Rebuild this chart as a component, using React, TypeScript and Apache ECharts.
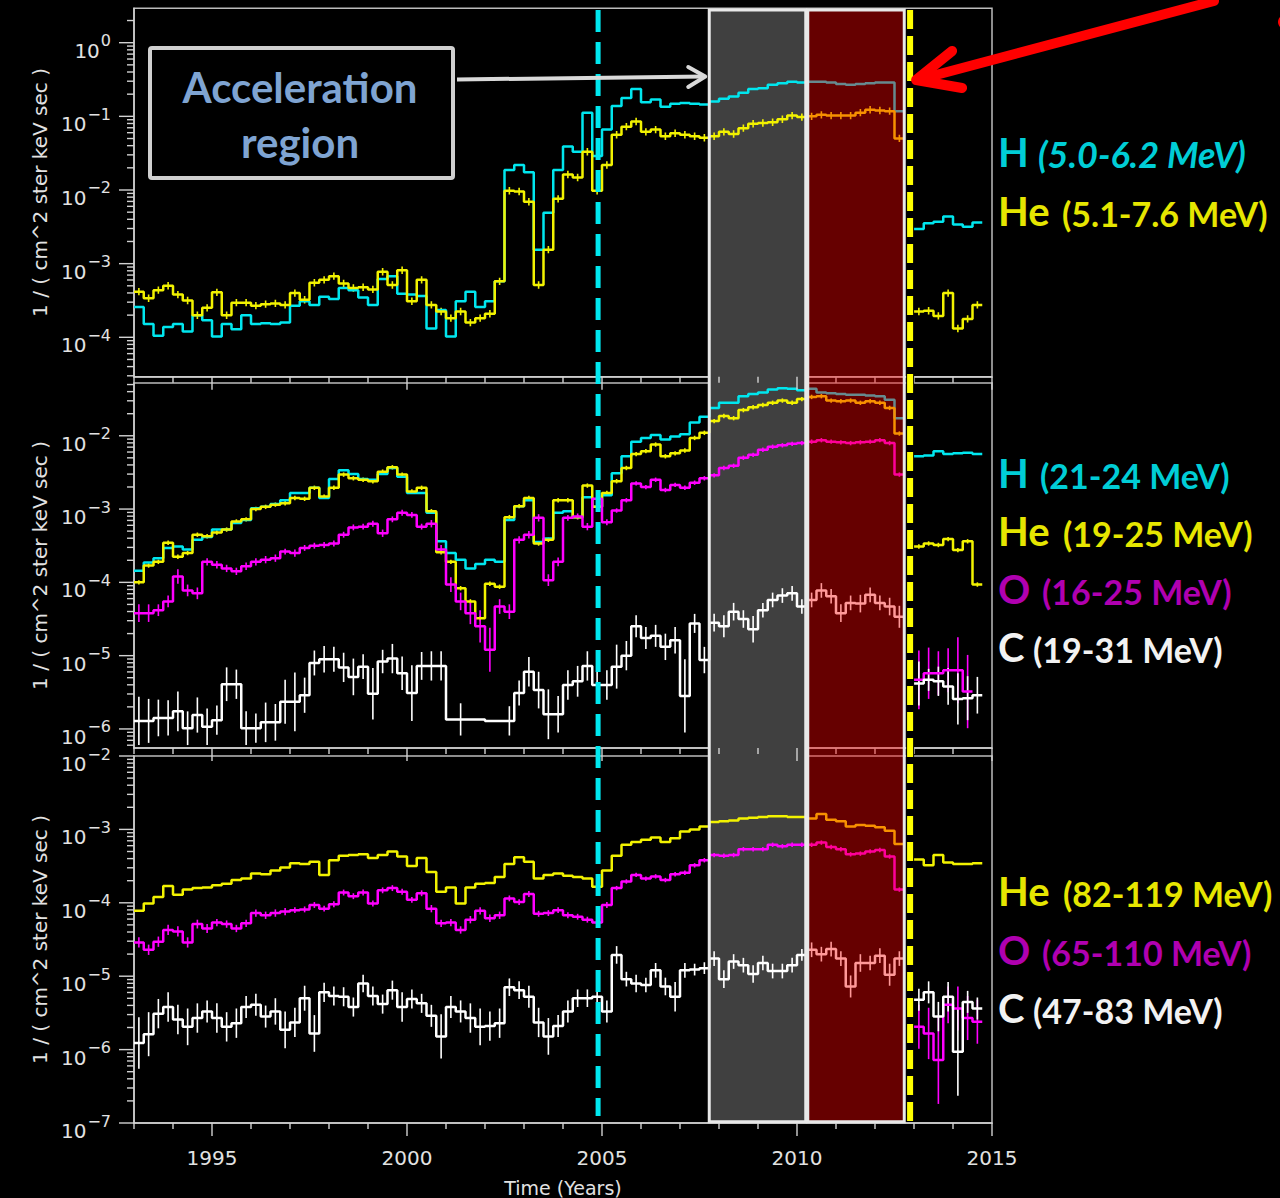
import React, { useEffect, useRef } from 'react';
import * as echarts from 'echarts';

// ---------- data (log10 of flux, 1 / (cm^2 ster keV sec)), quarter-year bins from 1993.0 ----------
const BIN_START = 1993;
const BIN_WIDTH = 0.25;
const YEAR_MIN = 1993;
const YEAR_MAX = 2015;
const YEAR_LABELS = [1995, 2000, 2005, 2010, 2015];

const topH = [
  -3.59, -3.82, -3.98, -3.86, -3.82, -3.92, -3.70, -3.77, -3.99, -3.82,
  -3.89, -3.70, -3.82, -3.81, -3.82, -3.80, -3.57, -3.51, -3.56, -3.45,
  -3.48, -3.33, -3.36, -3.46, -3.56, -3.21, -3.17, -3.41, -3.42, -3.44,
  -3.88, -3.63, -3.99, -3.51, -3.38, -3.59, -3.51, -3.24, -1.73, -1.66,
  -1.76, -2.81, -2.31, -1.73, -1.41, -1.48, -0.95, -1.54, -1.18, -0.86,
  -0.75, -0.63, -0.81, -0.77, -0.87, -0.83, -0.82, -0.83, -0.84, -0.80,
  -0.76, -0.73, -0.68, -0.63, -0.62, -0.57, -0.55, -0.53, -0.54, -0.53,
  -0.53, -0.54, -0.56, -0.57, -0.56, -0.55, -0.54, -0.54, -0.93, null,
  -2.53, -2.45, -2.43, -2.36, -2.47, -2.50, -2.44,
];
const topHe = [
  -3.38, -3.47, -3.36, -3.30, -3.42, -3.50, -3.70, -3.60, -3.39, -3.70,
  -3.53, -3.53, -3.57, -3.55, -3.54, -3.56, -3.40, -3.49, -3.26, -3.22,
  -3.17, -3.27, -3.33, -3.32, -3.35, -3.11, -3.29, -3.09, -3.51, -3.22,
  -3.56, -3.65, -3.74, -3.65, -3.80, -3.74, -3.68, -3.24, -2.01, -2.02,
  -2.16, -3.29, -2.81, -2.12, -1.79, -1.83, -1.48, -2.01, -1.66, -1.25,
  -1.14, -1.07, -1.21, -1.18, -1.27, -1.23, -1.25, -1.27, -1.29, -1.27,
  -1.21, -1.24, -1.16, -1.10, -1.09, -1.08, -1.04, -0.99, -1.01, -1.00,
  -0.98, -0.99, -0.99, -0.99, -0.95, -0.91, -0.92, -0.93, -1.30, null,
  -3.65, -3.64, -3.71, -3.40, -3.88, -3.75, -3.56,
];
const topHeErr = 0.05;

const midH = [
  -3.84, -3.73, -3.67, -3.53, -3.51, -3.55, -3.42, -3.38, -3.28, -3.28,
  -3.19, -3.15, -2.99, -2.97, -2.93, -2.88, -2.78, -2.78, -2.71, -2.85,
  -2.59, -2.47, -2.52, -2.59, -2.60, -2.52, -2.44, -2.56, -2.78, -2.78,
  -3.05, -3.44, -3.60, -3.69, -3.81, -3.75, -3.69, -3.72, -3.15, -2.96,
  -2.88, -3.45, -3.40, -3.05, -3.03, -3.11, -2.84, -2.97, -2.81, -2.51,
  -2.28, -2.08, -2.03, -1.99, -2.05, -2.01, -1.98, -1.82, -1.74, -1.62,
  -1.55, -1.55, -1.46, -1.43, -1.41, -1.37, -1.35, -1.36, -1.38, -1.36,
  -1.41, -1.42, -1.43, -1.44, -1.44, -1.45, -1.46, -1.51, -1.76, null,
  -2.28, -2.27, -2.21, -2.25, -2.24, -2.23, -2.25,
];
const midHe = [
  -4.00, -3.77, -3.72, -3.46, -3.65, -3.60, -3.35, -3.37, -3.32, -3.28,
  -3.17, -3.14, -3.00, -2.97, -2.94, -2.92, -2.85, -2.86, -2.71, -2.83,
  -2.71, -2.53, -2.58, -2.60, -2.62, -2.49, -2.43, -2.53, -2.76, -2.71,
  -3.03, -3.59, -3.72, -4.08, -4.26, -4.49, -4.02, -4.06, -3.11, -2.96,
  -2.85, -3.47, -3.42, -2.88, -2.88, -3.11, -2.68, -2.97, -2.78, -2.62,
  -2.44, -2.25, -2.21, -2.12, -2.28, -2.24, -2.20, -2.03, -1.96, -1.80,
  -1.73, -1.76, -1.65, -1.61, -1.58, -1.55, -1.52, -1.55, -1.50, -1.47,
  -1.46, -1.52, -1.53, -1.52, -1.55, -1.53, -1.55, -1.62, -1.97, null,
  -3.51, -3.47, -3.49, -3.41, -3.56, -3.44, -4.03,
];
const midHeErr = 0.03;
const midO = [
  -4.42, -4.42, -4.38, -4.26, -3.92, -4.11, -4.15, -3.72, -3.76, -3.81,
  -3.85, -3.78, -3.72, -3.69, -3.67, -3.58, -3.60, -3.53, -3.50, -3.49,
  -3.47, -3.35, -3.25, -3.24, -3.20, -3.33, -3.14, -3.05, -3.08, -3.24,
  -3.20, -3.55, -4.03, -4.26, -4.42, -4.60, -4.92, -4.33, -4.40, -3.42,
  -3.35, -3.12, -3.97, -3.72, -3.12, -3.10, -3.24, -2.86, -3.18, -3.02,
  -2.88, -2.65, -2.70, -2.60, -2.74, -2.67, -2.71, -2.64, -2.58, -2.54,
  -2.44, -2.41, -2.30, -2.26, -2.19, -2.15, -2.13, -2.11, -2.10, -2.08,
  -2.06, -2.08, -2.09, -2.10, -2.09, -2.08, -2.06, -2.10, -2.53, null,
  -5.33, -5.24, -5.24, -5.20, -5.20, -5.49, null,
];
const midOErr = [
  0.12, 0.12, 0.08, 0.08, 0.10, 0.08, 0.08, 0.05, 0.05, 0.05,
  0.05, 0.05, 0.05, 0.05, 0.05, 0.04, 0.05, 0.04, 0.04, 0.04,
  0.04, 0.04, 0.04, 0.04, 0.04, 0.05, 0.04, 0.04, 0.04, 0.04,
  0.05, 0.06, 0.10, 0.12, 0.15, 0.22, 0.30, 0.10, 0.10, 0.05,
  0.05, 0.05, 0.08, 0.06, 0.04, 0.04, 0.05, 0.04, 0.04, 0.03,
  0.03, 0.03, 0.03, 0.03, 0.03, 0.03, 0.03, 0.03, 0.03, 0.03,
  0.03, 0.03, 0.03, 0.03, 0.03, 0.03, 0.03, 0.03, 0.03, 0.03,
  0.03, 0.03, 0.03, 0.03, 0.03, 0.03, 0.03, 0.03, 0.03, 0,
  0.40, 0.35, 0.30, 0.30, 0.45, 0.50, 0,
];
const midC = [
  -5.89, -5.89, -5.85, -5.85, -5.76, -5.99, -5.81, -5.97, -5.88, -5.39,
  -5.39, -5.99, -5.99, -5.91, -5.91, -5.63, -5.63, -5.54, -5.10, -5.05,
  -5.05, -5.16, -5.29, -5.15, -5.52, -5.08, -5.04, -5.24, -5.51, -5.14,
  -5.14, -5.14, -5.87, -5.87, -5.87, -5.87, -5.89, -5.89, -5.89, -5.51,
  -5.22, -5.47, -5.80, -5.80, -5.40, -5.35, -5.14, -5.40, -5.40, -5.15,
  -5.00, -4.60, -4.76, -4.73, -4.88, -4.79, -5.55, -4.56, -5.06, -4.55,
  -4.60, -4.40, -4.50, -4.64, -4.38, -4.24, -4.18, -4.15, -4.33, -4.24,
  -4.11, -4.19, -4.42, -4.28, -4.29, -4.17, -4.28, -4.33, -4.47, null,
  -5.38, -5.33, -5.35, -5.42, -5.59, -5.58, -5.54,
];
const midCErr = [
  0.33, 0.30, 0.25, 0.24, 0.27, 0.23, 0.24, 0.25, 0.20, 0.23,
  0.20, 0.23, 0.20, 0.27, 0.25, 0.30, 0.40, 0.24, 0.17, 0.18,
  0.17, 0.20, 0.25, 0.17, 0.35, 0.16, 0.20, 0.23, 0.38, 0.19,
  0.20, 0.20, 0, 0.22, 0, 0, 0, 0, 0.20, 0.17,
  0.20, 0.25, 0.34, 0.25, 0.20, 0.21, 0.20, 0.18, 0.20, 0.30,
  0.20, 0.15, 0.15, 0.15, 0.18, 0.18, 0.50, 0.13, 0.18, 0.12,
  0.15, 0.12, 0.12, 0.18, 0.10, 0.10, 0.10, 0.10, 0.10, 0.10,
  0.10, 0.10, 0.12, 0.10, 0.12, 0.10, 0.10, 0.12, 0.15, 0,
  0.30, 0.15, 0.20, 0.25, 0.35, 0.30, 0.25,
];

const botHe = [
  -4.11, -4.01, -3.92, -3.77, -3.89, -3.82, -3.80, -3.79, -3.76, -3.74,
  -3.69, -3.67, -3.60, -3.61, -3.56, -3.52, -3.46, -3.47, -3.44, -3.62,
  -3.42, -3.36, -3.35, -3.34, -3.39, -3.35, -3.30, -3.37, -3.50, -3.39,
  -3.58, -3.85, -3.79, -4.01, -3.79, -3.74, -3.73, -3.65, -3.47, -3.38,
  -3.44, -3.67, -3.62, -3.60, -3.63, -3.65, -3.67, -3.78, -3.56, -3.36,
  -3.21, -3.17, -3.14, -3.11, -3.17, -3.12, -3.03, -3.00, -2.96, -2.90,
  -2.89, -2.88, -2.85, -2.84, -2.83, -2.82, -2.82, -2.83, -2.83, -2.85,
  -2.79, -2.87, -2.89, -2.96, -2.94, -2.95, -2.97, -3.02, -3.20, null,
  -3.41, -3.49, -3.35, -3.45, -3.47, -3.47, -3.46,
];
const botO = [
  -4.54, -4.64, -4.53, -4.37, -4.39, -4.54, -4.29, -4.35, -4.27, -4.29,
  -4.35, -4.28, -4.14, -4.17, -4.14, -4.12, -4.10, -4.09, -4.03, -4.08,
  -4.02, -3.86, -3.91, -3.86, -4.01, -3.83, -3.80, -3.85, -3.96, -3.87,
  -4.08, -4.28, -4.27, -4.37, -4.23, -4.11, -4.21, -4.17, -3.94, -3.99,
  -3.88, -4.15, -4.14, -4.10, -4.17, -4.19, -4.23, -4.27, -4.03, -3.80,
  -3.71, -3.62, -3.67, -3.64, -3.69, -3.61, -3.59, -3.49, -3.42, -3.35,
  -3.36, -3.35, -3.27, -3.27, -3.27, -3.21, -3.23, -3.21, -3.21, -3.21,
  -3.18, -3.24, -3.27, -3.34, -3.33, -3.30, -3.28, -3.37, -3.82, null,
  -5.69, -5.78, -6.14, -5.39, -5.44, -5.57, -5.62,
];
const botOErr = [
  0.07, 0.07, 0.07, 0.07, 0.07, 0.07, 0.06, 0.06, 0.05, 0.05,
  0.05, 0.05, 0.05, 0.05, 0.05, 0.05, 0.04, 0.04, 0.04, 0.04,
  0.04, 0.04, 0.04, 0.04, 0.04, 0.04, 0.04, 0.04, 0.04, 0.04,
  0.05, 0.05, 0.05, 0.05, 0.05, 0.05, 0.05, 0.05, 0.04, 0.04,
  0.04, 0.04, 0.04, 0.04, 0.04, 0.04, 0.04, 0.04, 0.04, 0.03,
  0.03, 0.03, 0.03, 0.03, 0.03, 0.03, 0.03, 0.03, 0.03, 0.03,
  0.03, 0.03, 0.03, 0.03, 0.03, 0.03, 0.03, 0.03, 0.03, 0.03,
  0.03, 0.03, 0.03, 0.03, 0.03, 0.03, 0.03, 0.03, 0.03, 0,
  0.30, 0.35, 0.60, 0.25, 0.30, 0.30, 0.30,
];
const botC = [
  -5.91, -5.79, -5.51, -5.42, -5.59, -5.69, -5.57, -5.48, -5.57, -5.69,
  -5.64, -5.42, -5.39, -5.55, -5.48, -5.73, -5.63, -5.30, -5.78, -5.22,
  -5.27, -5.28, -5.42, -5.10, -5.27, -5.38, -5.19, -5.42, -5.31, -5.37,
  -5.54, -5.82, -5.42, -5.48, -5.57, -5.69, -5.68, -5.64, -5.15, -5.19,
  -5.28, -5.63, -5.82, -5.68, -5.48, -5.30, -5.30, -5.28, -5.48, -4.71,
  -5.04, -5.10, -5.12, -4.92, -5.14, -5.28, -4.92, -4.91, -4.89, -4.76,
  -5.04, -4.80, -4.85, -4.97, -4.82, -4.93, -4.93, -4.85, -4.71, -4.64,
  -4.70, -4.63, -4.76, -5.14, -4.82, -4.82, -4.72, -4.98, -4.76, null,
  -5.32, -5.22, -5.55, -5.28, -6.03, -5.35, -5.44,
];
const botCErr = [
  0.35, 0.30, 0.20, 0.20, 0.20, 0.25, 0.20, 0.15, 0.20, 0.20,
  0.20, 0.15, 0.15, 0.15, 0.18, 0.25, 0.20, 0.17, 0.25, 0.13,
  0.13, 0.13, 0.13, 0.12, 0.13, 0.13, 0.13, 0.20, 0.13, 0.13,
  0.15, 0.30, 0.15, 0.15, 0.20, 0.25, 0.20, 0.20, 0.12, 0.12,
  0.15, 0.20, 0.25, 0.15, 0.15, 0.12, 0.12, 0.12, 0.15, 0.12,
  0.10, 0.12, 0.10, 0.10, 0.12, 0.20, 0.10, 0.08, 0.08, 0.10,
  0.12, 0.10, 0.10, 0.12, 0.10, 0.10, 0.10, 0.10, 0.08, 0.10,
  0.10, 0.10, 0.10, 0.15, 0.12, 0.10, 0.10, 0.15, 0.10, 0,
  0.15, 0.15, 0.20, 0.20, 0.60, 0.15, 0.15,
];

// event markers (years)
const ACCEL_START = 2007.75;
const ACCEL_END = 2010.25;
const SECOND_END = 2012.75;
const CYAN_MARK_YEAR = 2004.9;
const YELLOW_MARK_YEAR = 2012.9;

// ---------- styles / layout ----------
const CYAN = '#00e6ee';
const YELLOW = '#f2f200';
const MAGENTA = '#ff00ff';
const WHITE = '#ffffff';
const AXIS = '#d2d2d2';
const LABEL = '#e2e2e2';

const LEFT = 134;
const WIDTH = 858;
const PANELS = [
  { top: 8.3, height: 368.4, logMin: -4.535, logMax: 0.467 },
  { top: 383, height: 365, logMin: -6.26, logMax: -1.28 },
  { top: 756, height: 367, logMin: -7, logMax: -2 },
];

const SERIES = [
  { panel: 0, name: 'H 5.0-6.2 MeV', logs: topH, color: CYAN, err: 0 },
  { panel: 0, name: 'He 5.1-7.6 MeV', logs: topHe, color: YELLOW, err: topHeErr },
  { panel: 1, name: 'H 21-24 MeV', logs: midH, color: CYAN, err: 0 },
  { panel: 1, name: 'He 19-25 MeV', logs: midHe, color: YELLOW, err: midHeErr },
  { panel: 1, name: 'O 16-25 MeV', logs: midO, color: MAGENTA, err: midOErr },
  { panel: 1, name: 'C 19-31 MeV', logs: midC, color: WHITE, err: midCErr },
  { panel: 2, name: 'He 82-119 MeV', logs: botHe, color: YELLOW, err: 0 },
  { panel: 2, name: 'O 65-110 MeV', logs: botO, color: MAGENTA, err: botOErr },
  { panel: 2, name: 'C 47-83 MeV', logs: botC, color: WHITE, err: botCErr },
];

const LEGEND = [
  { sym: 'H', range: '(5.0-6.2 MeV)', color: '#00cdd6', italic: true, y: 152, rx: 1038 },
  { sym: 'He', range: '(5.1-7.6 MeV)', color: '#e6e600', italic: false, y: 211, rx: 1062 },
  { sym: 'H', range: '(21-24 MeV)', color: '#00cdd6', italic: false, y: 473, rx: 1040 },
  { sym: 'He', range: '(19-25 MeV)', color: '#e6e600', italic: false, y: 531, rx: 1063 },
  { sym: 'O', range: '(16-25 MeV)', color: '#b000b0', italic: false, y: 589, rx: 1042 },
  { sym: 'C', range: '(19-31 MeV)', color: '#f2f2f2', italic: false, y: 647, rx: 1033 },
  { sym: 'He', range: '(82-119 MeV)', color: '#e6e600', italic: false, y: 891, rx: 1063 },
  { sym: 'O', range: '(65-110 MeV)', color: '#b000b0', italic: false, y: 950, rx: 1042 },
  { sym: 'C', range: '(47-83 MeV)', color: '#f2f2f2', italic: false, y: 1008, rx: 1033 },
];

function stepData(logs: (number | null)[]) {
  const pts: any[] = [];
  logs.forEach((e, i) => {
    const x0 = BIN_START + i * BIN_WIDTH;
    const x1 = x0 + BIN_WIDTH;
    if (e === null) {
      pts.push([x0, null]);
      return;
    }
    const v = Math.pow(10, e);
    pts.push([x0, v], [x1, v]);
  });
  return pts;
}

function errData(logs: (number | null)[], err: number | number[]) {
  const out: number[][] = [];
  logs.forEach((e, i) => {
    if (e === null) return;
    const d = Array.isArray(err) ? err[i] : err;
    if (!d) return;
    const xc = BIN_START + (i + 0.5) * BIN_WIDTH;
    out.push([xc, Math.pow(10, e - d), Math.pow(10, e + d)]);
  });
  return out;
}

function tickData(p: { logMin: number; logMax: number }) {
  const out: number[][] = [];
  const yMin = Math.pow(10, p.logMin);
  for (let yr = YEAR_MIN; yr <= YEAR_MAX; yr++) {
    out.push([yr, yMin, yr % 5 === 0 ? 1 : 0, 0]);
  }
  for (let d = Math.floor(p.logMin); d <= Math.ceil(p.logMax); d++) {
    for (let m = 1; m <= 9; m++) {
      const lv = d + Math.log10(m);
      if (lv < p.logMin - 1e-6 || lv > p.logMax + 1e-6) continue;
      out.push([YEAR_MIN, m * Math.pow(10, d), m === 1 ? 1 : 0, 1]);
    }
  }
  return out;
}

function buildOption() {
  const grid = PANELS.map((p) => ({
    left: LEFT,
    top: p.top,
    width: WIDTH,
    height: p.height,
    show: true,
    borderColor: '#bcbcbc',
    borderWidth: 1.5,
    backgroundColor: 'transparent',
  }));
  const xAxis = PANELS.map((p, i) => ({
    type: 'value',
    gridIndex: i,
    min: YEAR_MIN,
    max: YEAR_MAX,
    interval: 1,
    axisLine: { show: true, onZero: false, lineStyle: { color: AXIS, width: 1.5 } },
    axisTick: { show: false },
    splitLine: { show: false },
    axisLabel: {
      show: i === 2,
      margin: 25,
      color: LABEL,
      fontSize: 20,
      fontFamily: 'DejaVu Sans',
      formatter: (v: number) => (YEAR_LABELS.indexOf(v) >= 0 ? String(v) : ''),
    },
    name: i === 2 ? 'Time (Years)' : '',
    nameLocation: 'middle',
    nameGap: 55,
    nameTextStyle: { color: LABEL, fontSize: 19, fontFamily: 'DejaVu Sans' },
  }));
  const yAxis = PANELS.map((p, i) => ({
    type: 'log',
    logBase: 10,
    gridIndex: i,
    min: Math.pow(10, p.logMin),
    max: Math.pow(10, p.logMax),
    axisLine: { show: true, onZero: false, lineStyle: { color: AXIS, width: 1.5 } },
    axisTick: { show: false },
    splitLine: { show: false },
    axisLabel: {
      margin: 23,
      formatter: (v: number) => {
        const l = Math.log10(v);
        const r = Math.round(l);
        if (Math.abs(l - r) > 0.01) return '';
        return '{b|10}{e|' + (r < 0 ? '\u2212' + -r : String(r)) + '}';
      },
      rich: {
        b: { fontSize: 20, color: LABEL, fontFamily: 'DejaVu Sans', padding: [16, 0, 0, 0], verticalAlign: 'bottom' },
        e: { fontSize: 16, color: LABEL, fontFamily: 'DejaVu Sans', padding: [8, 0, 0, 1], verticalAlign: 'top' },
      },
    },
    name: '1 / ( cm^2 ster keV sec )',
    nameLocation: 'middle',
    nameRotate: 90,
    nameGap: 82,
    nameTextStyle: { color: LABEL, fontSize: 20, fontFamily: 'DejaVu Sans' },
  }));

  const series: any[] = [];
  SERIES.forEach((s) => {
    series.push({
      type: 'line',
      name: s.name,
      xAxisIndex: s.panel,
      yAxisIndex: s.panel,
      data: stepData(s.logs),
      symbol: 'none',
      showSymbol: false,
      connectNulls: false,
      lineStyle: { color: s.color, width: 2.5 },
      itemStyle: { color: s.color },
      silent: true,
      z: 3,
    });
    const ed = errData(s.logs, s.err as any);
    if (ed.length) {
      series.push({
        type: 'custom',
        name: s.name + ' err',
        xAxisIndex: s.panel,
        yAxisIndex: s.panel,
        clip: true,
        silent: true,
        z: 3,
        encode: { x: 0, y: [1, 2] },
        data: ed,
        renderItem: (params: any, api: any) => {
          const a = api.coord([api.value(0), api.value(1)]);
          const b = api.coord([api.value(0), api.value(2)]);
          return {
            type: 'line',
            shape: { x1: a[0], y1: a[1], x2: b[0], y2: b[1] },
            style: { stroke: s.color, lineWidth: 1.6 },
          };
        },
      });
    }
  });
  PANELS.forEach((p, i) => {
    series.push({
      type: 'custom',
      name: 'ticks' + i,
      xAxisIndex: i,
      yAxisIndex: i,
      clip: false,
      silent: true,
      z: 4,
      encode: { x: 0, y: 1 },
      data: tickData(p),
      renderItem: (params: any, api: any) => {
        const pt = api.coord([api.value(0), api.value(1)]);
        const major = api.value(2) === 1;
        const isY = api.value(3) === 1;
        const len = isY ? (major ? 15 : 7) : major ? 13 : 6;
        const shape = isY
          ? { x1: pt[0] - len, y1: pt[1], x2: pt[0], y2: pt[1] }
          : { x1: pt[0], y1: pt[1], x2: pt[0], y2: pt[1] + len };
        return { type: 'line', shape, style: { stroke: AXIS, lineWidth: 1.4 } };
      },
    });
  });

  return {
    animation: false,
    backgroundColor: '#000000',
    textStyle: { fontFamily: 'DejaVu Sans' },
    grid,
    xAxis,
    yAxis,
    series,
  };
}

function buildGraphic(chart: any) {
  const px = (yr: number) => chart.convertToPixel({ xAxisIndex: 0 }, yr);
  const xA = px(ACCEL_START);
  const xB = px(ACCEL_END);
  const xC = px(SECOND_END);
  const xCyan = px(CYAN_MARK_YEAR);
  const xYel = px(YELLOW_MARK_YEAR);
  const yTop = PANELS[0].top + 1.7;
  const yBot = PANELS[2].top + PANELS[2].height - 1.3;
  const txt = (text: string, x: number, y: number, fill: string, size: number, extra: any = {}) => ({
    type: 'text', z: 25, silent: true, x, y,
    style: Object.assign({
      text, fill, fontSize: size, fontWeight: 'bold', fontFamily: 'Lato',
      align: 'left', verticalAlign: 'middle', textAlign: 'left', textVerticalAlign: 'middle',
    }, extra),
  });
  const els: any[] = [
    { type: 'rect', z: 1, silent: true, shape: { x: xA, y: yTop, width: xB - 1 - xA, height: yBot - yTop }, style: { fill: '#404040' } },
    { type: 'rect', z: 20, silent: true, shape: { x: xB + 1, y: yTop, width: xC - xB - 1, height: yBot - yTop }, style: { fill: 'rgba(255,0,0,0.4)' } },
    { type: 'rect', z: 21, silent: true, shape: { x: xA, y: yTop, width: xB - 1 - xA, height: yBot - yTop }, style: { fill: 'none', stroke: '#e8e8e8', lineWidth: 3 } },
    { type: 'rect', z: 21, silent: true, shape: { x: xB + 1, y: yTop, width: xC - xB - 1, height: yBot - yTop }, style: { fill: 'none', stroke: '#e8e8e8', lineWidth: 3 } },
    { type: 'line', z: 22, silent: true, shape: { x1: xCyan, y1: 10, x2: xCyan, y2: 1116 }, style: { stroke: '#00e8f0', lineWidth: 5, lineDash: [22, 10] } },
    { type: 'line', z: 22, silent: true, shape: { x1: xYel, y1: 10, x2: xYel, y2: 1121 }, style: { stroke: '#000000', lineWidth: 8 } },
    { type: 'line', z: 23, silent: true, shape: { x1: xYel, y1: 10, x2: xYel, y2: 1121 }, style: { stroke: '#ffff00', lineWidth: 6, lineDash: [19, 7] } },
    // annotation box
    { type: 'rect', z: 24, silent: true, shape: { x: 150, y: 48, width: 303, height: 130, r: 2 }, style: { fill: '#000000', stroke: '#d0d0d0', lineWidth: 4 } },
    txt('Acceleration', 300, 87, '#7fa4d2', 42, { align: 'center', textAlign: 'center' }),
    txt('region', 300, 142, '#7fa4d2', 42, { align: 'center', textAlign: 'center' }),
    { type: 'polyline', z: 24, silent: true, shape: { points: [[457, 79.5], [xA - 5, 76.5]] }, style: { stroke: '#d9d9d9', lineWidth: 4, fill: 'none' } },
    { type: 'polyline', z: 24, silent: true, shape: { points: [[xA - 21, 67], [xA - 4, 76.5], [xA - 21, 87]] }, style: { stroke: '#d9d9d9', lineWidth: 4, fill: 'none', lineCap: 'round', lineJoin: 'round' } },
    // red arrow
    { type: 'line', z: 24, silent: true, shape: { x1: xYel + 7, y1: 80, x2: 1214, y2: 1 }, style: { stroke: '#ff0000', lineWidth: 10, lineCap: 'round' } },
    { type: 'polyline', z: 24, silent: true, shape: { points: [[xYel + 42, 51], [xYel + 6, 80], [xYel + 52, 88]] }, style: { stroke: '#ff0000', lineWidth: 10, fill: 'none', lineCap: 'round', lineJoin: 'round' } },
    { type: 'circle', z: 24, silent: true, shape: { cx: 1285, cy: 22, r: 7 }, style: { fill: '#ff0000' } },
  ];
  LEGEND.forEach((l) => {
    els.push(txt(l.sym, 998, l.y, l.color, 40));
    els.push(txt(l.range, l.rx, l.y + 2, l.color, l.italic ? 36 : 34, { fontStyle: l.italic ? 'italic' : 'normal' }));
  });
  return els;
}

export default function App() {
  const ref = useRef<HTMLDivElement>(null);
  useEffect(() => {
    document.body.style.margin = '0';
    document.body.style.background = '#000';
    const chart = echarts.init(ref.current as HTMLDivElement, null, { renderer: 'svg' });
    chart.setOption(buildOption() as any);
    chart.setOption({ graphic: { elements: buildGraphic(chart) } } as any);
    return () => chart.dispose();
  }, []);
  return <div ref={ref} style={{ width: 1280, height: 1198, background: '#000' }} />;
}
